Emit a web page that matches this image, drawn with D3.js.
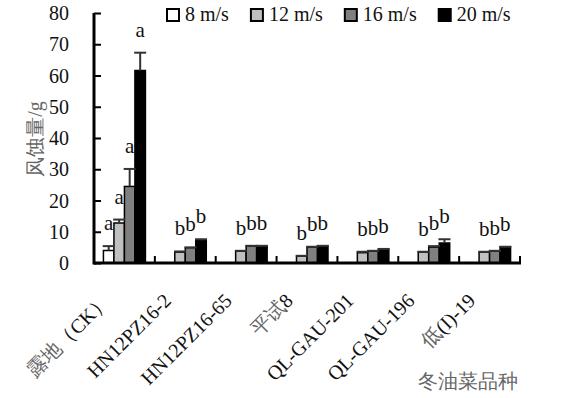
<!DOCTYPE html>
<html>
<head>
<meta charset="utf-8">
<script src="https://cdn.jsdelivr.net/npm/d3@7"></script>
</head>
<body style="margin:0">
<div id="chart"></div>
<script>
// categories (x axis)
const categories = ["露地（CK）", "HN12PZ16-2", "HN12PZ16-65", "平试8", "QL-GAU-201", "QL-GAU-196", "低(I)-19"];
const series = ["8 m/s", "12 m/s", "16 m/s", "20 m/s"];
const colors = ["#ffffff", "#c0c0c0", "#808080", "#000000"];

// wind erosion (g), one array per wind speed, same order as categories
const v8  = [4.0, 0, 0, 0, 0, 0, 0];
const v12 = [12.8, 3.5, 3.8, 2.2, 3.3, 3.5, 3.5];
const v16 = [24.5, 4.9, 5.4, 5.1, 3.8, 5.1, 3.8];
const v20 = [61.6, 7.3, 5.4, 5.4, 4.4, 6.4, 5.1];

// error bar (+sd)
const e8  = [1.4, 0, 0, 0, 0, 0, 0];
const e12 = [1.1, 0.2, 0.1, 0.1, 0.3, 0.1, 0.1];
const e16 = [5.6, 0.1, 0.1, 0.1, 0.1, 0.3, 0.1];
const e20 = [5.7, 0.3, 0.1, 0.1, 0.1, 1.2, 0.1];

// significance letters
const l8  = ["a", "", "", "", "", "", ""];
const l12 = ["a", "b", "b", "b", "b", "b", "b"];
const l16 = ["a", "b", "b", "b", "b", "b", "b"];
const l20 = ["a", "b", "b", "b", "b", "b", "b"];

const yTicks = [0, 10, 20, 30, 40, 50, 60, 70, 80];

const values = [v8, v12, v16, v20];
const errs = [e8, e12, e16, e20];
const letters = [l8, l12, l16, l20];

const FONT = "Liberation Serif";

const width = 563, height = 398;
const svg = d3.select("#chart").append("svg")
  .attr("width", width).attr("height", height);

const x = d3.scaleBand().domain(categories).range([94, 520]).padding(0);
const bw = x.bandwidth();
const xs = d3.scaleBand().domain(d3.range(4)).range([bw * 0.155, bw * 0.845]).padding(0);
const y = d3.scaleLinear().domain([0, 80]).range([263, 13]);

const data = [];
categories.forEach((c, i) => {
  series.forEach((s, k) => {
    data.push({ cat: c, k: k, v: values[k][i], e: errs[k][i], l: letters[k][i] });
  });
});

// bars
svg.append("g").selectAll("rect")
  .data(data.filter(d => d.v > 0))
  .join("rect")
  .attr("x", d => x(d.cat) + xs(d.k))
  .attr("y", d => y(d.v))
  .attr("width", xs.bandwidth())
  .attr("height", d => y(0) - y(d.v))
  .attr("fill", d => colors[d.k])
  .attr("stroke", "#000")
  .attr("stroke-width", 1.5);

// error bars
const eb = svg.append("g").attr("stroke", "#333").attr("stroke-width", 2);
data.filter(d => d.e > 0).forEach(d => {
  const cx = x(d.cat) + xs(d.k) + xs.bandwidth() / 2;
  eb.append("line").attr("x1", cx).attr("x2", cx).attr("y1", y(d.v)).attr("y2", y(d.v + d.e));
  eb.append("line").attr("x1", cx - 6).attr("x2", cx + 6).attr("y1", y(d.v + d.e)).attr("y2", y(d.v + d.e));
});

// letters
svg.append("g").selectAll("text")
  .data(data.filter(d => d.l))
  .join("text")
  .attr("x", d => x(d.cat) + xs(d.k) + xs.bandwidth() / 2)
  .attr("y", d => y(d.v + d.e) - 16)
  .attr("text-anchor", "middle")
  .attr("font-family", FONT)
  .attr("font-size", 21)
  .attr("fill", "#111")
  .text(d => d.l);

// y axis: inward ticks from the scale, no axis-default font
const yAxis = svg.append("g").attr("transform", "translate(94,0)")
  .call(d3.axisRight(y).tickValues(yTicks).tickSize(7).tickFormat(""));
yAxis.attr("font-family", null).attr("font-size", null);
yAxis.select(".domain").remove();
yAxis.selectAll(".tick text").remove();
yAxis.selectAll(".tick line").attr("stroke", "#000").attr("stroke-width", 2);
svg.append("line").attr("x1", 94).attr("x2", 94).attr("y1", y(80)).attr("y2", y(0) + 1.5)
  .attr("stroke", "#000").attr("stroke-width", 3);
svg.append("g").selectAll("text")
  .data(yTicks)
  .join("text")
  .attr("x", 69).attr("y", d => y(d) + 7)
  .attr("text-anchor", "end")
  .attr("font-family", FONT)
  .attr("font-size", 20)
  .attr("fill", "#111")
  .text(d => d);

// x axis
svg.append("line").attr("x1", 94).attr("x2", 521).attr("y1", y(0)).attr("y2", y(0))
  .attr("stroke", "#000").attr("stroke-width", 3);
svg.append("g").selectAll("line")
  .data(categories)
  .join("line")
  .attr("x1", d => x(d) + bw).attr("x2", d => x(d) + bw)
  .attr("y1", y(0)).attr("y2", y(0) - 7)
  .attr("stroke", "#000").attr("stroke-width", 2);

// x tick labels, rotated; cjk runs drawn lighter like the original
const xl = svg.append("g").selectAll("text")
  .data(categories)
  .join("text")
  .attr("text-anchor", "end")
  .attr("font-family", FONT)
  .attr("font-size", 20)
  .attr("transform", d => `translate(${x(d) + bw / 2 - 13},${302}) rotate(-45)`);
xl.each(function (d) {
  const t = d3.select(this);
  const runs = d.match(/[\u4e00-\u9fff]+|[^\u4e00-\u9fff]+/g);
  runs.forEach(r => {
    t.append("tspan").attr("font-family", FONT)
      .attr("fill", /[\u4e00-\u9fff]/.test(r) ? "#666" : "#111").text(r);
  });
});

// axis titles
svg.append("text")
  .attr("transform", "translate(42,139) rotate(-90)")
  .attr("text-anchor", "middle")
  .attr("font-family", FONT)
  .attr("font-size", 20)
  .attr("fill", "#666")
  .text("风蚀量/g");
svg.append("text")
  .attr("x", 468).attr("y", 388)
  .attr("text-anchor", "middle")
  .attr("font-family", FONT)
  .attr("font-size", 20)
  .attr("fill", "#666")
  .text("冬油菜品种");

// legend
const lg = svg.append("g");
let lx = 167;
series.forEach((s, k) => {
  lg.append("rect").attr("x", lx).attr("y", 9).attr("width", 12).attr("height", 12)
    .attr("fill", colors[k]).attr("stroke", "#000").attr("stroke-width", 2);
  const t = lg.append("text").attr("x", lx + 18).attr("y", 21)
    .attr("font-family", FONT)
    .attr("font-size", 20).attr("fill", "#111").text(s);
  lx += 18 + t.node().getComputedTextLength() + 22;
});
</script>
</body>
</html>
